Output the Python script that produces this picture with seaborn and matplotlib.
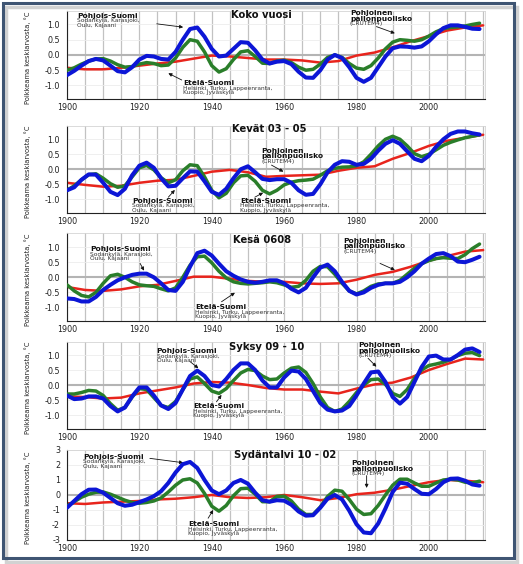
import seaborn as sns
import matplotlib.pyplot as plt
from matplotlib.patches import Rectangle
from matplotlib.ticker import MultipleLocator

# years for the Finnish series (every 2nd year) and for CRUTEM4 (every 5th)
years = list(range(1900, 2015, 2))
nh_years = list(range(1900, 2016, 5))

# Koko vuosi
koko_pohjois = [-0.66, -0.52, -0.35, -0.2, -0.13, -0.18, -0.35, -0.53, -0.57, -0.4,
                -0.15, -0.03, -0.05, -0.13, -0.15, 0.1, 0.5, 0.85, 0.9, 0.6,
                0.2, -0.05, -0.02, 0.2, 0.42, 0.4, 0.15, -0.15, -0.28, -0.22,
                -0.2, -0.3, -0.55, -0.74, -0.75, -0.5, -0.15, 0.0, -0.1, -0.4,
                -0.75, -0.88, -0.75, -0.4, -0.05, 0.22, 0.28, 0.27, 0.24, 0.28,
                0.45, 0.68, 0.88, 0.97, 0.97, 0.92, 0.86, 0.85]
koko_etela = [-0.5, -0.42, -0.3, -0.2, -0.13, -0.12, -0.2, -0.32, -0.4, -0.38,
              -0.3, -0.25, -0.28, -0.35, -0.33, -0.1, 0.25, 0.5, 0.45, 0.1,
              -0.35, -0.56, -0.45, -0.15, 0.1, 0.14, -0.05, -0.27, -0.28, -0.2,
              -0.17, -0.25, -0.4, -0.5, -0.47, -0.3, -0.08, 0.0, -0.08, -0.28,
              -0.43, -0.47, -0.35, -0.1, 0.2, 0.42, 0.5, 0.48, 0.45, 0.5,
              0.62, 0.76, 0.86, 0.9, 0.92, 0.95, 1.0, 1.04]
koko_nh = [-0.42, -0.47, -0.47, -0.42, -0.35, -0.28, -0.22, -0.12, -0.02, -0.05, -0.1, -0.15,
           -0.15, -0.18, -0.25, -0.2, -0.02, 0.08, 0.25, 0.45, 0.62, 0.8, 0.9, 0.97]

# Kevät
kevat_pohjois = [-0.7, -0.6, -0.35, -0.17, -0.18, -0.45, -0.75, -0.86, -0.65, -0.2,
                 0.12, 0.22, 0.05, -0.3, -0.57, -0.55, -0.3, -0.07, -0.08, -0.4,
                 -0.75, -0.85, -0.65, -0.3, 0.0, 0.1, -0.1, -0.32, -0.36, -0.33,
                 -0.33, -0.45, -0.7, -0.85, -0.82, -0.5, -0.1, 0.15, 0.27, 0.25,
                 0.15, 0.18, 0.35, 0.62, 0.85, 0.97, 0.85, 0.6, 0.35, 0.27,
                 0.45, 0.75, 1.0, 1.18, 1.26, 1.26, 1.2, 1.16]
kevat_etela = [-0.7, -0.55, -0.35, -0.18, -0.15, -0.3, -0.48, -0.6, -0.55, -0.25,
               0.05, 0.13, -0.02, -0.28, -0.45, -0.35, -0.05, 0.15, 0.12, -0.25,
               -0.7, -0.95, -0.8, -0.45, -0.22, -0.2, -0.4, -0.7, -0.82, -0.7,
               -0.52, -0.43, -0.38, -0.36, -0.33, -0.2, -0.05, 0.03, 0.07, 0.08,
               0.12, 0.25, 0.5, 0.78, 1.0, 1.1, 1.0, 0.78, 0.52, 0.42,
               0.5, 0.65, 0.8, 0.9, 0.98, 1.05, 1.1, 1.15]
kevat_nh = [-0.45, -0.52, -0.58, -0.55, -0.45, -0.38, -0.35, -0.22, -0.08, -0.02, -0.1, -0.25,
            -0.22, -0.2, -0.18, -0.05, 0.05, 0.1, 0.35, 0.55, 0.78, 0.95, 1.05, 1.15]

# Kesä
kesa_pohjois = [-0.7, -0.72, -0.8, -0.8, -0.65, -0.42, -0.25, -0.1, 0.0, 0.08,
                0.12, 0.12, 0.0, -0.2, -0.42, -0.45, -0.15, 0.35, 0.8, 0.88,
                0.72, 0.45, 0.2, 0.05, -0.07, -0.15, -0.18, -0.15, -0.1, -0.1,
                -0.2, -0.38, -0.5, -0.35, 0.0, 0.32, 0.42, 0.2, -0.15, -0.45,
                -0.57, -0.5, -0.35, -0.25, -0.2, -0.2, -0.15, 0.0, 0.2, 0.45,
                0.62, 0.77, 0.8, 0.7, 0.52, 0.5, 0.58, 0.68]
kesa_etela = [-0.25, -0.45, -0.6, -0.65, -0.5, -0.2, 0.05, 0.1, 0.0, -0.15,
              -0.25, -0.28, -0.3, -0.38, -0.45, -0.35, 0.0, 0.4, 0.68, 0.7,
              0.48, 0.2, -0.02, -0.15, -0.2, -0.22, -0.2, -0.18, -0.15, -0.18,
              -0.25, -0.33, -0.3, -0.1, 0.2, 0.36, 0.35, 0.1, -0.2, -0.45,
              -0.55, -0.45, -0.3, -0.22, -0.2, -0.2, -0.1, 0.1, 0.3, 0.45,
              0.55, 0.62, 0.65, 0.63, 0.62, 0.75, 0.95, 1.1]
kesa_nh = [-0.32, -0.42, -0.45, -0.4, -0.3, -0.25, -0.12, 0.02, 0.02, -0.05, -0.12, -0.15,
           -0.15, -0.2, -0.22, -0.2, -0.08, 0.08, 0.18, 0.35, 0.55, 0.7, 0.85, 0.9]

# Syksy
syksy_pohjois = [-0.35, -0.47, -0.45, -0.38, -0.38, -0.45, -0.7, -0.88, -0.75, -0.38,
                 -0.08, -0.08, -0.35, -0.68, -0.8, -0.6, -0.15, 0.3, 0.48, 0.3,
                 0.0, -0.05, 0.2, 0.5, 0.72, 0.72, 0.5, 0.15, -0.08, -0.08,
                 0.25, 0.48, 0.45, 0.2, -0.2, -0.6, -0.82, -0.88, -0.85, -0.7,
                 -0.35, 0.05, 0.42, 0.45, 0.1, -0.4, -0.62, -0.4, 0.1, 0.6,
                 0.95, 0.98, 0.85, 0.85, 1.0, 1.18, 1.22, 1.1]
syksy_etela = [-0.3, -0.3, -0.25, -0.18, -0.2, -0.35, -0.62, -0.84, -0.75, -0.4,
               -0.12, -0.15, -0.42, -0.68, -0.75, -0.55, -0.15, 0.2, 0.27, 0.05,
               -0.2, -0.28, -0.12, 0.15, 0.4, 0.52, 0.48, 0.3, 0.18, 0.2,
               0.4, 0.56, 0.6, 0.42, 0.05, -0.4, -0.75, -0.88, -0.8, -0.55,
               -0.25, 0.0, 0.18, 0.2, 0.02, -0.28, -0.38, -0.15, 0.22, 0.5,
               0.65, 0.7, 0.76, 0.85, 0.98, 1.06, 1.08, 0.98]
syksy_nh = [-0.38, -0.4, -0.45, -0.42, -0.28, -0.18, -0.08, 0.05, 0.1, 0.08, 0.0, -0.1,
            -0.15, -0.15, -0.22, -0.28, -0.12, 0.02, 0.08, 0.25, 0.5, 0.7, 0.88, 0.85]

# Sydäntalvi
talvi_pohjois = [-0.85, -0.4, 0.05, 0.35, 0.36, 0.15, -0.2, -0.55, -0.72, -0.65,
                 -0.48, -0.3, -0.08, 0.25, 0.8, 1.5, 2.05, 2.2, 1.8, 1.0,
                 0.3, 0.05, 0.3, 0.8, 1.0, 0.75, 0.15, -0.35, -0.45, -0.35,
                 -0.38, -0.65, -1.1, -1.38, -1.35, -0.85, -0.25, 0.0, -0.3, -1.05,
                 -1.95, -2.5, -2.55, -1.9, -0.9, 0.2, 0.82, 0.75, 0.4, 0.08,
                 0.05, 0.4, 0.85, 1.08, 1.1, 0.95, 0.7, 0.62]
talvi_etela = [-0.75, -0.45, -0.15, 0.05, 0.18, 0.2, 0.05, -0.15, -0.35, -0.5,
               -0.55, -0.5, -0.4, -0.2, 0.2, 0.65, 1.0, 1.08, 0.8, 0.1,
               -0.75, -1.08, -0.7, -0.05, 0.42, 0.45, 0.05, -0.45, -0.45, -0.1,
               -0.08, -0.4, -0.95, -1.3, -1.3, -0.8, -0.1, 0.32, 0.25, -0.3,
               -0.95, -1.3, -1.25, -0.7, 0.0, 0.65, 1.05, 1.05, 0.8, 0.58,
               0.58, 0.8, 1.0, 1.05, 1.0, 0.85, 0.8, 0.92]
talvi_nh = [-0.55, -0.6, -0.5, -0.45, -0.4, -0.3, -0.25, -0.15, 0.0, -0.15, -0.2, -0.15,
            0.0, -0.15, -0.35, -0.2, 0.05, 0.15, 0.35, 0.6, 0.85, 1.0, 0.95, 0.85]

titles = ["Koko vuosi", "Kevät 03 - 05", "Kesä 0608", "Syksy 09 - 10", "Sydäntalvi 10 - 02"]

POHJ = (["Pohjois-Suomi"], ["Sodankylä, Karasjoki,", "Oulu, Kajaani"])
ETEL = (["Etelä-Suomi"], ["Helsinki, Turku, Lappeenranta,", "Kuopio, Jyväskylä"])
NH = (["Pohjoinen", "pallonpuolisko"], ["(CRUTEM4)"])

sns.set_theme(style="white")
plt.rcParams['font.family'] = ['DejaVu Sans']
plt.rcParams['axes.unicode_minus'] = False

fig = plt.figure(figsize=(5.23, 5.64), dpi=100)

# outer frame with a light shadow
fig.patches.append(Rectangle((6 / 523, 1 - 562 / 564), 511 / 523, 555 / 564, transform=fig.transFigure,
                             fill=False, ec="#d2d2d2", lw=2.5, zorder=0))
fig.patches.append(Rectangle((3 / 523, 1 - 558 / 564), 511 / 523, 555 / 564, transform=fig.transFigure,
                             fill=False, ec="#3f5573", lw=2.2, zorder=1))

panels = [
    dict(data=(koko_pohjois, koko_etela, koko_nh), box=(0.8241, 0.1569), ylim=1.45,
         title=(1953.8, 1.31),
         notes=[(POHJ, 1902.8, 1.29, (1924.8, 1.02), (1932.1, 0.91)),
                (ETEL, 1932.0, -0.92, (1931.7, -0.82), (1928.0, -0.6)),
                (NH, 1978.2, 1.37, (1985.5, 0.93), (1990.6, 0.71))]),
    dict(data=(kevat_pohjois, kevat_etela, kevat_nh), box=(0.6227, 0.1543), ylim=1.45,
         title=(1956.0, 1.34),
         notes=[(POHJ, 1917.9, -1.05, (1928.0, -0.93), (1929.8, -0.69)),
                (ETEL, 1947.8, -1.05, (1951.9, -0.93), (1954.2, -0.78)),
                (NH, 1953.8, 0.62, (1956.5, 0.14), (1959.8, -0.08))]),
    dict(data=(kesa_pohjois, kesa_etela, kesa_nh), box=(0.4307, 0.1553), ylim=1.45,
         title=(1953.8, 1.24),
         notes=[(POHJ, 1906.4, 0.93, (1920.2, 0.46), (1921.3, 0.22)),
                (ETEL, 1935.4, -0.99, (1942.7, -0.81), (1946.4, -0.51)),
                (NH, 1976.3, 1.21, (1986.5, 0.46), (1990.6, 0.24))]),
    dict(data=(syksy_pohjois, syksy_etela, syksy_nh), box=(0.2402, 0.1543), ylim=1.45,
         title=(1955.2, 1.26),
         notes=[(POHJ, 1924.8, 1.13, (1934.0, 0.78), (1936.3, 0.56)),
                (ETEL, 1934.9, -0.70, (1941.3, -0.56), (1942.7, -0.33)),
                (NH, 1980.5, 1.33, (1983.2, 0.89), (1985.5, 0.61))]),
    dict(data=(talvi_pohjois, talvi_etela, talvi_nh), box=(0.0426, 0.1596), ylim=3.0,
         title=(1960.2, 2.67),
         notes=[(POHJ, 1904.5, 2.56, (1922.9, 2.44), (1932.1, 2.15)),
                (ETEL, 1933.5, -1.96, (1939.0, -1.55), (1940.4, -1.0)),
                (NH, 1978.6, 2.11, (1982.8, 1.29), (1982.8, 0.47))]),
]


def note(ax, texts, x, y, start, end):
    heads, subs = texts
    off = 0.0
    for h in heads:
        ax.annotate(h, xy=(x, y), xytext=(0, -off), textcoords="offset pixels",
                    ha="left", va="center", fontsize=5.4, fontweight="bold", color="#111111")
        off += 5.6
    off -= 0.6
    for s in subs:
        ax.annotate(s, xy=(x, y), xytext=(0, -off), textcoords="offset pixels",
                    ha="left", va="center", fontsize=4.2, color="#333333")
        off += 4.5
    ax.annotate("", xy=end, xytext=start,
                arrowprops=dict(arrowstyle="-|>", color="#111111", lw=0.6, mutation_scale=5,
                                shrinkA=0, shrinkB=0))


for i, p in enumerate(panels):
    pohj, etel, nh = p["data"]
    ax = fig.add_axes([0.1281, p["box"][0], 0.7992, p["box"][1]])
    ax.set_xlim(1900, 2015.5)
    lim = p["ylim"]
    ax.set_ylim(-lim, lim)

    ax.xaxis.set_major_locator(MultipleLocator(20))
    ax.xaxis.set_minor_locator(MultipleLocator(5))
    ax.grid(which="both", axis="x", color="#c2c2c2", lw=0.9)
    if lim > 2:
        ax.yaxis.set_major_locator(MultipleLocator(1))
        ax.yaxis.set_minor_locator(MultipleLocator(0.5))
        ax.yaxis.set_major_formatter(plt.FormatStrFormatter("%d"))
    else:
        ax.yaxis.set_major_locator(MultipleLocator(0.5))
        ax.yaxis.set_minor_locator(MultipleLocator(0.25))
        ax.yaxis.set_major_formatter(plt.FormatStrFormatter("%.1f"))
    ax.grid(which="major", axis="y", color="#ececec", lw=0.6)
    ax.axhline(0, color="#b4b4b4", lw=1.5, zorder=1)

    sns.lineplot(x=nh_years, y=nh, ax=ax, color="#e8241c", linewidth=1.8, zorder=2)
    sns.lineplot(x=years, y=etel, ax=ax, color="#2a7e2a", linewidth=2.5, zorder=3)
    sns.lineplot(x=years, y=pohj, ax=ax, color="#0c16d6", linewidth=2.9, zorder=4)

    for side in ["left", "bottom"]:
        ax.spines[side].set_color("#222222")
        ax.spines[side].set_linewidth(0.8)
    for side in ["top", "right"]:
        ax.spines[side].set_color("#d4d4d4")
        ax.spines[side].set_linewidth(0.6)
    ax.tick_params(which="major", direction="in", length=3, width=0.6, labelsize=5.8, pad=3,
                   colors="#222222")
    ax.tick_params(axis="y", which="major", pad=5)
    ax.tick_params(which="minor", direction="in", length=2, width=0.5, colors="#222222")

    ax.set_ylabel("Poikkeama keskiarvosta, °C", fontsize=5.3, color="#222222",
                  family=["Liberation Sans Narrow", "DejaVu Sans"], fontstretch="condensed")
    ax.yaxis.set_label_coords(-0.085, 0.47)
    ax.set_xlabel("")

    ax.text(p["title"][0], p["title"][1], titles[i], ha="center", va="center",
            fontsize=7.2, fontweight="bold", color="#111111")
    for texts, x, y, start, end in p["notes"]:
        note(ax, texts, x, y, start, end)

fig.savefig("out.png", dpi=100)
